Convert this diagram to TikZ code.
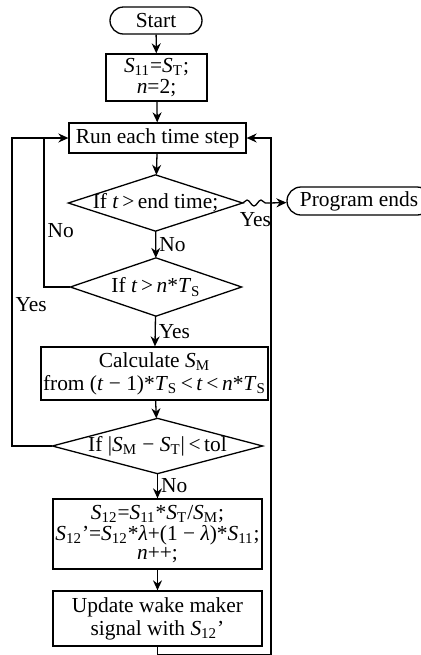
\documentclass[tikz,border=0pt]{standalone}
\usepackage{fontspec}
\setmainfont{Liberation Serif}
\usepackage{tikz}
\usetikzlibrary{arrows.meta,shapes.misc,decorations.pathmorphing}

\newcommand{\sv}[2]{\textit{#1}\textsubscript{#2}}

\begin{document}
\begin{tikzpicture}[
    x=0.5pt, y=-0.5pt, line width=0.65pt,
    >={Stealth[length=5pt,width=4.5pt]},
    every node/.style={font=\fontsize{10.7}{11.5}\selectfont, inner sep=0pt, align=center},
    term/.style={draw, rounded rectangle, minimum height=13.5pt},
    procbox/.style={draw, rectangle},
    decision/.style={rectangle},
    lbl/.style={inner sep=1.5pt}
]
\useasboundingbox (0,0) rectangle (421,655);

% main column
\node[term, minimum width=46pt] (start) at (156,20.5) {Start};
\node[procbox, minimum width=50.5pt, minimum height=23.5pt] (init) at (156.5,77.5)
    {\sv{S}{11}=\sv{S}{T};\\[-1pt] \textit{n}=2;};
\node[procbox, minimum width=88.5pt, minimum height=15pt] (run) at (157.5,138) {Run each time step};
\node[decision, minimum width=86.5pt, minimum height=27.5pt] (d1) at (155.5,203) {If \textit{t}\,>\,end time;};
\node[decision, minimum width=85pt, minimum height=28.5pt] (d2) at (156,287) {If \textit{t}\,>\,\textit{n}*\sv{T}{S}};
\node[procbox, minimum width=113.5pt, minimum height=26.5pt] (calc) at (154.5,373.5)
    {Calculate \sv{S}{M}\\ from (\textit{t} − 1)*\sv{T}{S}\,<\,\textit{t}\,<\,\textit{n}*\sv{T}{S}};
\node[decision, minimum width=104.5pt, minimum height=27pt] (d3) at (157.5,446)
    {If |\sv{S}{M} − \sv{S}{T}|\,<\,tol};
\node[procbox, minimum width=104.5pt, minimum height=35pt] (upd) at (157.5,534)
    {\sv{S}{12}=\sv{S}{11}*\sv{S}{T}/\sv{S}{M};\\[-1pt]
     \sv{S}{12}’=\sv{S}{12}*\textit{λ}+(1 − \textit{λ})*\sv{S}{11};\\[-2pt] \textit{n}++;};
\node[procbox, minimum width=104.5pt, minimum height=27.5pt] (wave) at (157.5,618.5)
    {Update wake maker\\ signal with \sv{S}{12}’};

% exit
\node[term, minimum width=72pt, minimum height=14pt] (ends) at (359,201) {Program ends};

\foreach \d in {d1,d2,d3}
    \draw (\d.west) -- (\d.north) -- (\d.east) -- (\d.south) -- cycle;

\coordinate (wv) at (268,203);
\coordinate (li) at (44,138);
\coordinate (lo) at (12,138);
\coordinate (ro) at (271,138);

\draw[->] (start) -- (init);
\draw[->] (init) -- (run);
\draw[->] (run) -- (d1);
\draw[->] (d1) -- node[lbl, right] {No} (d2);
\draw[->] (d2) -- node[lbl, right] {Yes} (calc);
\draw[->] (calc) -- (d3);
\draw[->] (d3) -- node[lbl, right] {No} (upd);
\draw[->] (upd) -- (wave);

\draw[decorate, decoration={snake, amplitude=1.5pt, segment length=7pt}]
    (d1.east) -- node[lbl, below=3pt] {Yes} (wv);
\draw[->] (wv) -- (ends);

% loops back
\draw (d2.west) -| node[lbl, pos=0.69, right] {No} (li);
\draw[->] (d3.west) -| node[lbl, pos=0.73, right] {Yes} (lo) -- (run.west);
\draw[->] (wave.south) -- ++(0,8) -| (ro) -- (run.east);
\end{tikzpicture}
\end{document}
